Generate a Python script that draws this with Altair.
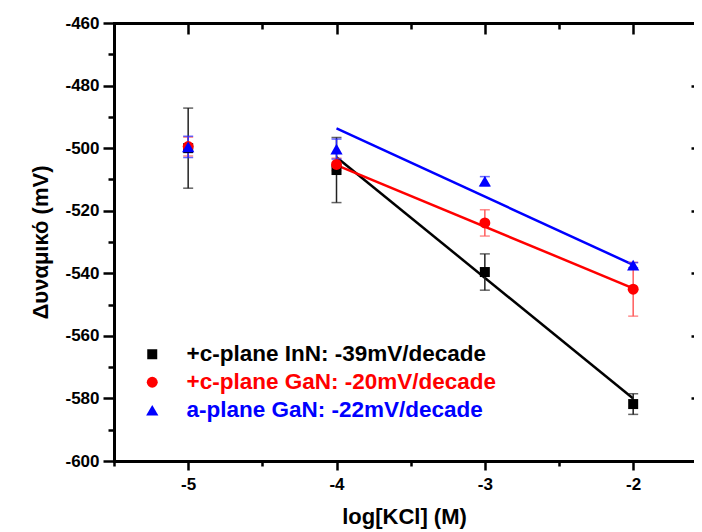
import altair as alt
import pandas as pd

# ---- data ----
x_vals = [-5, -4, -3, -2]

inn_y = [-500.0, -507.0, -539.6, -581.8]
inn_err = [12.8, 10.4, 5.8, 3.3]

ganc_y = [-499.5, -505.2, -523.9, -545.1]
ganc_err = [3.0, 2.0, 4.2, 8.6]

gana_y = [-499.6, -500.3, -510.6, -537.4]
gana_err = [3.4, 3.2, 1.5, 0.8]

fit_x = [-4, -2]
inn_fit = [-502.9, -580.0]
ganc_fit = [-505.4, -544.8]
gana_fit = [-493.7, -537.3]

labels = ["+c-plane InN: -39mV/decade",
          "+c-plane GaN: -20mV/decade",
          "a-plane GaN: -22mV/decade"]
colors = ["#000000", "#ff0000", "#0000ff"]
err_colors = ["#222222", "#ff5c5c", "#2a2aff"]
shapes = ["square", "circle", "triangle-up"]
sizes = [100, 120, 150]

x_ticks = [-5.5, -5, -4.5, -4, -3.5, -3, -2.5, -2]
y_ticks = [-600, -590, -580, -570, -560, -550, -540, -530, -520, -510,
           -500, -490, -480, -470, -460]
y_right_ticks = [-580, -560, -540, -520, -500, -480]

FONT = "Liberation Sans"

xs = alt.Scale(domain=[-5.5, -1.59], nice=False, zero=False)
ys = alt.Scale(domain=[-600, -460], nice=False, zero=False)

series_y = [inn_y, ganc_y, gana_y]
series_err = [inn_err, ganc_err, gana_err]
series_fit = [inn_fit, ganc_fit, gana_fit]

x_bottom = alt.Axis(
    orient="bottom", values=x_ticks,
    labelExpr="datum.value % 1 === 0 ? '' + datum.value : ''",
    tickSize={"condition": {"test": "datum.value % 1 !== 0", "value": 5}, "value": 9},
    labelPadding=6, title="log[KCl] (M)", titlePadding=14)

y_left = alt.Axis(
    orient="left", values=y_ticks,
    labelExpr="datum.value % 20 === 0 ? '' + datum.value : ''",
    tickSize={"condition": {"test": "datum.value % 20 !== 0", "value": 6}, "value": 11},
    labelPadding=4, title="Δυναμικό (mV)", titlePadding=12)

x_top = alt.Axis(
    orient="top", values=x_ticks, labels=False,
    tickSize=alt.ExprRef(expr="datum.value % 1 !== 0 ? -6 : -11"),
    title=None)

y_right = alt.Axis(
    orient="right", values=y_right_ticks, labels=False, domain=False,
    tickSize=alt.ExprRef(expr="-3"), title=None)

layers = []

# fit lines
for i in range(3):
    df = pd.DataFrame({"x": fit_x, "y": series_fit[i]})
    layers.append(
        alt.Chart(df).mark_line(color=colors[i], strokeWidth=2.5).encode(
            x=alt.X("x:Q", scale=xs, axis=None),
            y=alt.Y("y:Q", scale=ys, axis=None)))

# error bars
for i in range(3):
    df = pd.DataFrame({
        "x": x_vals,
        "lo": [v - e for v, e in zip(series_y[i], series_err[i])],
        "hi": [v + e for v, e in zip(series_y[i], series_err[i])],
    })
    layers.append(
        alt.Chart(df).mark_rule(color=err_colors[i], strokeWidth=1.5).encode(
            x=alt.X("x:Q", scale=xs, axis=None),
            y=alt.Y("lo:Q", scale=ys, axis=None),
            y2="hi:Q"))
    for col in ["lo", "hi"]:
        layers.append(
            alt.Chart(df).mark_tick(color=err_colors[i], orient="horizontal",
                                    size=10, thickness=1.5).encode(
                x=alt.X("x:Q", scale=xs, axis=None),
                y=alt.Y(f"{col}:Q", scale=ys, axis=None)))

# points with legends
legend_y = [320, 348, 376]
for i in range(3):
    df = pd.DataFrame({"x": x_vals, "y": series_y[i], "series": labels[i]})
    if i == 0:
        xa, ya = x_bottom, y_left
    elif i == 1:
        xa, ya = x_top, y_right
    else:
        xa, ya = None, None
    layers.append(
        alt.Chart(df).mark_point(filled=True, shape=shapes[i], size=sizes[i],
                                 opacity=1, strokeWidth=0).encode(
            x=alt.X("x:Q", scale=xs, axis=xa),
            y=alt.Y("y:Q", scale=ys, axis=ya),
            color=alt.Color(
                "series:N",
                scale=alt.Scale(domain=[labels[i]], range=[colors[i]]),
                legend=alt.Legend(
                    orient="none", legendX=27, legendY=legend_y[i],
                    title=None, padding=0, symbolType=shapes[i],
                    symbolSize=sizes[i], symbolStrokeWidth=0, symbolOpacity=1,
                    labelFont=FONT, labelFontSize=22.5, labelFontWeight="bold",
                    labelColor=colors[i], labelOffset=23, labelLimit=500))))

chart = alt.layer(*layers).resolve_scale(
    color="independent"
).resolve_axis(
    x="independent", y="independent"
).properties(
    width=580, height=438,
    background="white",
    autosize=alt.AutoSizeParams(type="none"),
    padding={"left": 106, "top": 15, "right": 0, "bottom": 70},
).configure_view(
    stroke=None
).configure_axis(
    grid=False,
    domainWidth=3, domainColor="black", domainCap="square",
    tickWidth=2.5, tickColor="black",
    labelFont=FONT, labelFontSize=17, labelFontWeight="bold", labelColor="black",
    labelOverlap=False, labelFlush=False,
    titleFont=FONT, titleFontSize=22, titleFontWeight="bold", titleColor="black",
)

chart.save("out.html", embed_options={"renderer": "svg", "actions": False})
